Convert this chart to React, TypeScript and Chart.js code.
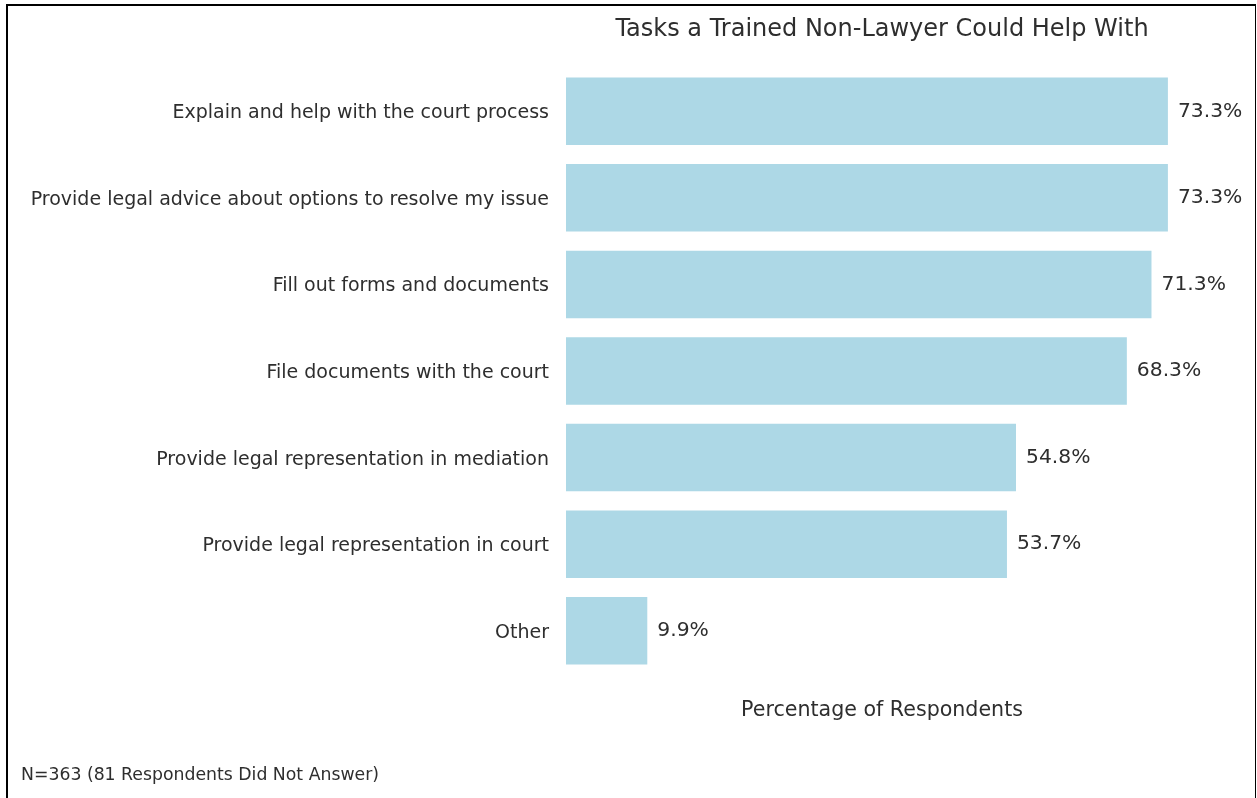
import React, { useEffect, useRef } from "react";
import { Chart, registerables } from "chart.js";

Chart.register(...registerables);

const categories = [
  "Explain and help with the court process",
  "Provide legal advice about options to resolve my issue",
  "Fill out forms and documents",
  "File documents with the court",
  "Provide legal representation in mediation",
  "Provide legal representation in court",
  "Other",
];
const percentages = [73.3, 73.3, 71.3, 68.3, 54.8, 53.7, 9.9];
const chartTitle = "Tasks a Trained Non-Lawyer Could Help With";
const xAxisTitle = "Percentage of Respondents";
const footnote = "N=363 (81 Respondents Did Not Answer)";

const FONT = "'DejaVu Sans', sans-serif";
const TEXT = "#2e2e2e";

export default function App() {
  const ref = useRef<HTMLCanvasElement | null>(null);
  useEffect(() => {
    document.body.style.margin = "0";
    const canvas = ref.current;
    if (!canvas) return;
    const textPlugin = {
      id: "textPlugin",
      afterDatasetsDraw(chart: any) {
        const { ctx, chartArea, scales } = chart;
        const cx = (chartArea.left + chartArea.right) / 2;
        ctx.save();
        ctx.fillStyle = TEXT;
        ctx.textAlign = "center";
        ctx.textBaseline = "middle";
        ctx.font = `24px ${FONT}`;
        ctx.fillText(chartTitle, cx, 30);
        ctx.font = `20.6px ${FONT}`;
        ctx.fillText(xAxisTitle, cx, 711);
        ctx.textAlign = "left";
        ctx.font = `17.3px ${FONT}`;
        ctx.fillText(footnote, 21, 776);
        ctx.font = `20.3px ${FONT}`;
        const meta = chart.getDatasetMeta(0);
        meta.data.forEach((bar: any, i: number) => {
          const x = scales.x.getPixelForValue(percentages[i]);
          ctx.fillText(percentages[i].toFixed(1) + "%", x + 10, bar.y);
        });
        ctx.restore();
      },
    };
    const chart = new Chart(canvas, {
      type: "bar",
      data: {
        labels: categories,
        datasets: [
          {
            data: percentages,
            backgroundColor: "#add8e6",
            borderWidth: 0,
            barPercentage: 0.78,
            categoryPercentage: 1,
          },
        ],
      },
      options: {
        indexAxis: "y",
        animation: false,
        responsive: false,
        maintainAspectRatio: false,
        layout: { padding: { left: 0, right: 59, top: 68, bottom: 124 } },
        plugins: {
          legend: { display: false },
          tooltip: { enabled: false },
          title: { display: false },
        },
        scales: {
          x: { display: false, min: 0, max: 76.965 },
          y: {
            grid: { display: false, drawTicks: false },
            border: { display: false },
            ticks: {
              padding: 17,
              labelOffset: 2,
              color: TEXT,
              font: { family: FONT, size: 19 },
            },
            afterFit(scale: any) {
              scale.width = 566;
            },
          },
        },
      },
      plugins: [textPlugin],
    });
    return () => chart.destroy();
  }, []);
  return (
    <div style={{ position: "relative", width: 1257, height: 798, background: "#fff" }}>
      <canvas ref={ref} width={1257} height={798} style={{ position: "absolute", left: 0, top: 0 }} />
      <div
        style={{
          position: "absolute",
          left: 6,
          top: 4,
          width: 1247,
          height: 792,
          borderTop: "2px solid #000",
          borderLeft: "2px solid #000",
          borderRight: "1px solid #000",
          borderBottom: "2px solid #aaa",
          pointerEvents: "none",
        }}
      />
    </div>
  );
}
